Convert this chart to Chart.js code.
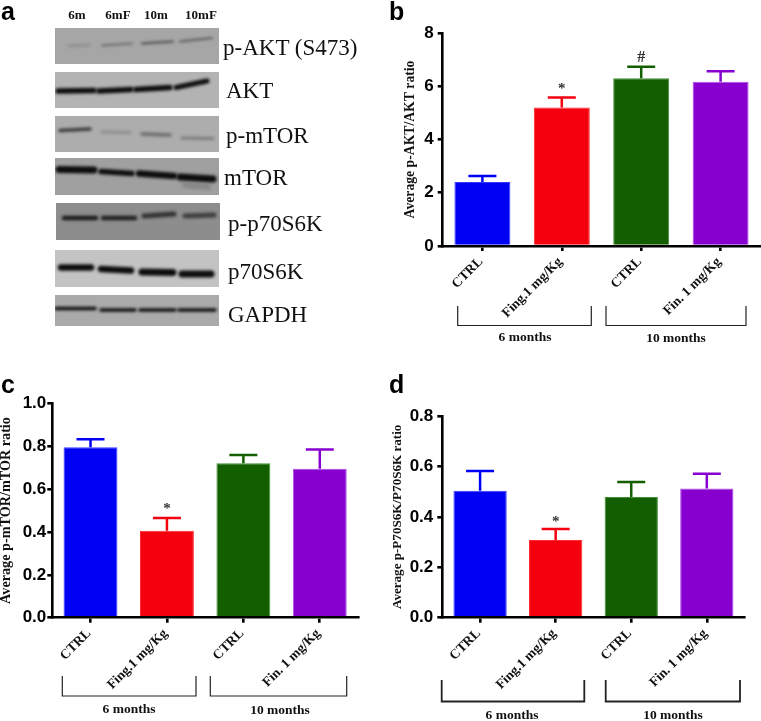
<!DOCTYPE html>
<html>
<head>
<meta charset="utf-8">
<title>Western blot and ratios</title>
<script src="https://cdn.jsdelivr.net/npm/chart.js@4"></script>
<style>
  html, body { margin: 0; padding: 0; background: #fff; }
  #page { position: relative; width: 761px; height: 721px; overflow: hidden; }
  canvas { position: absolute; }
  .letter { position: absolute; font: bold 25px "Liberation Sans", sans-serif; color: #000; line-height: 25px; }
  .lane { position: absolute; font: bold 13px "Liberation Serif", serif; color: #111; transform: translate(-50%, -50%); white-space: nowrap; }
  .protein { position: absolute; font: 23px "Liberation Serif", serif; color: #111; transform: translateY(-50%); white-space: nowrap; }
</style>
</head>
<body>
<div id="page">
  <canvas id="blot" width="230" height="340" style="left:0;top:0"></canvas>
  <canvas id="chartB" width="366" height="350" style="left:395px;top:15px"></canvas>
  <canvas id="chartC" width="361" height="345" style="left:0;top:376px"></canvas>
  <canvas id="chartD" width="366" height="335" style="left:390px;top:386px"></canvas>
</div>
<script>
var categories = ['CTRL', 'Fing.1 mg/Kg', 'CTRL', 'Fin. 1 mg/Kg'];
var barColors = ['#0000f5', '#f5000f', '#135f00', '#8700d0'];
var edgeColors = ['#3a3aff', '#ff2a2a', '#3f8f30', '#b04be8'];

var aktValues = [2.4, 5.2, 6.3, 6.17];
var aktErrorTops = [2.63, 5.58, 6.73, 6.56];
var aktMarks = ['', '*', '#', ''];
var aktTicks = [0, 2, 4, 6, 8];

var mtorValues = [0.795, 0.405, 0.72, 0.695];
var mtorErrorTops = [0.832, 0.465, 0.759, 0.785];
var mtorMarks = ['', '*', '', ''];
var mtorTicks = [0, 0.2, 0.4, 0.6, 0.8, 1.0];

var p70Values = [0.504, 0.308, 0.479, 0.512];
var p70ErrorTops = [0.582, 0.352, 0.538, 0.571];
var p70Marks = ['', '*', '', ''];
var p70Ticks = [0, 0.2, 0.4, 0.6, 0.8];

var groupLabels = ['6 months', '10 months'];
var laneLabels = ['6m', '6mF', '10m', '10mF'];
var proteinLabels = ['p-AKT (S473)', 'AKT', 'p-mTOR', 'mTOR', 'p-p70S6K', 'p70S6K', 'GAPDH'];

var serifBold = '"Liberation Serif", serif';
var sansBold = '"Liberation Sans", sans-serif';

// error bars, significance marks and the month brackets under the axis
var extrasPlugin = {
  id: 'extras',
  afterDatasetsDraw: function(chart, args, opts) {
    var ctx = chart.ctx;
    var meta = chart.getDatasetMeta(0);
    var y = chart.scales.y;
    ctx.save();
    for (var i = 0; i < opts.tops.length; i++) {
      var bar = meta.data[i];
      var top = y.getPixelForValue(opts.tops[i]);
      ctx.strokeStyle = barColors[i];
      ctx.lineWidth = 2.5;
      ctx.beginPath();
      ctx.moveTo(bar.x, bar.y);
      ctx.lineTo(bar.x, top);
      ctx.moveTo(bar.x - opts.capHalf, top);
      ctx.lineTo(bar.x + opts.capHalf, top);
      ctx.stroke();
      if (opts.marks[i]) {
        ctx.fillStyle = '#333';
        ctx.font = (opts.marks[i] == '#' ? 'bold 16px ' : 'bold 15px ') + serifBold;
        ctx.textAlign = 'center';
        ctx.textBaseline = 'middle';
        ctx.fillText(opts.marks[i], bar.x, top - opts.markGap);
      }
    }
    ctx.strokeStyle = '#222';
    ctx.lineWidth = opts.bracketWidth;
    ctx.fillStyle = '#111';
    ctx.font = 'bold 13.5px ' + serifBold;
    ctx.textAlign = 'center';
    ctx.textBaseline = 'middle';
    opts.brackets.forEach(function(b, k) {
      ctx.beginPath();
      ctx.moveTo(b.x1, b.top);
      ctx.lineTo(b.x1, b.bottom);
      ctx.lineTo(b.x2, b.bottom);
      ctx.lineTo(b.x2, b.top);
      ctx.stroke();
      ctx.fillText(groupLabels[k], b.textX, b.textY);
    });
    ctx.restore();
  }
};

function makeChart(id, values, tops, marks, ticks, yTitle, cfg) {
  var canvas = document.getElementById(id);
  return new Chart(canvas, {
    type: 'bar',
    data: {
      labels: categories,
      datasets: [{
        data: values,
        backgroundColor: barColors,
        borderColor: edgeColors,
        borderWidth: 1,
        barPercentage: 0.705,
        categoryPercentage: 1
      }]
    },
    plugins: [extrasPlugin],
    options: {
      responsive: false,
      animation: false,
      layout: {
        autoPadding: false,
        padding: { left: 0, top: cfg.top, right: canvas.width - cfg.right, bottom: 0 }
      },
      plugins: {
        legend: { display: false },
        tooltip: { enabled: false },
        extras: {
          tops: tops,
          marks: marks,
          capHalf: cfg.capHalf,
          markGap: cfg.markGap,
          brackets: cfg.brackets,
          bracketWidth: cfg.bracketWidth
        }
      },
      scales: {
        x: {
          afterFit: function(s) { s.height = canvas.height - cfg.bottom; },
          border: { color: '#000', width: 2.6, z: 1 },
          grid: { offset: false, drawOnChartArea: false, color: '#000', lineWidth: 2.6, tickLength: 5, z: 1 },
          ticks: {
            color: '#111',
            font: { family: serifBold, size: 13.5, weight: 'bold' },
            minRotation: 45,
            maxRotation: 45,
            padding: 3,
            labelOffset: -1.5
          }
        },
        y: {
          min: 0,
          max: ticks[ticks.length - 1],
          afterFit: function(s) { s.width = cfg.left; },
          afterBuildTicks: function(s) {
            s.ticks = ticks.map(function(t) { return { value: t }; });
          },
          border: { color: '#000', width: 2.6 },
          grid: { drawOnChartArea: false, color: '#000', lineWidth: 2.6, tickLength: 5 },
          ticks: {
            color: '#000',
            font: { family: sansBold, size: 17, weight: 'bold' },
            padding: cfg.tickPad,
            callback: function(v) { return cfg.decimals ? Number(v).toFixed(cfg.decimals) : String(v); }
          },
          title: {
            display: true,
            text: yTitle,
            color: '#111',
            font: { family: serifBold, size: cfg.titleSize, weight: 'bold' },
            padding: { top: cfg.titlePad, bottom: 0 }
          }
        }
      }
    }
  });
}

makeChart('chartB', aktValues, aktErrorTops, aktMarks, aktTicks, 'Average p-AKT/AKT ratio', {
  left: 47.7, right: 365.3, top: 18, bottom: 231,
  decimals: 0, capHalf: 14, markGap: 8.5, tickPad: 4, bracketWidth: 1.2, titleSize: 13.7, titlePad: 6.8,
  brackets: [
    { x1: 62.7, x2: 196.3, top: 291, bottom: 310.5, textX: 130, textY: 323 },
    { x1: 211, x2: 351, top: 291, bottom: 310.5, textX: 281, textY: 324 }
  ]
});

makeChart('chartC', mtorValues, mtorErrorTops, mtorMarks, mtorTicks, 'Average p-mTOR/mTOR ratio', {
  left: 52.3, right: 358, top: 27.3, bottom: 241.7,
  decimals: 1, capHalf: 14, markGap: 8.5, tickPad: 1, bracketWidth: 1.2, titleSize: 14.2, titlePad: -1.8,
  brackets: [
    { x1: 62.3, x2: 196, top: 300, bottom: 320, textX: 129, textY: 334 },
    { x1: 210.3, x2: 346.7, top: 300, bottom: 320, textX: 280, textY: 335 }
  ]
});

makeChart('chartD', p70Values, p70ErrorTops, p70Marks, p70Ticks, 'Average p-P70S6K/P70S6K ratio', {
  left: 52.3, right: 354.6, top: 30, bottom: 231.7,
  decimals: 1, capHalf: 14, markGap: 7, tickPad: 4, bracketWidth: 1.8, titleSize: 13.1, titlePad: 0,
  brackets: [
    { x1: 51.7, x2: 194.3, top: 294, bottom: 315.5, textX: 122, textY: 329.5 },
    { x1: 215.7, x2: 350, top: 294, bottom: 315.5, textX: 283, textY: 329.5 }
  ]
});

// panel a: the gel strips, coordinates in pixels of the page, bands are soft strokes
var strips = [
  { x: 55, y: 28, w: 164, h: 36, bg: '#a6a6a6', bands: [
    [68, 46, 90, 45, 1.4, 0.25], [102, 45.5, 132, 43.5, 1.6, 0.5], [142, 43.5, 173, 41.5, 1.8, 0.6], [180, 41.5, 212, 38, 1.8, 0.5] ] },
  { x: 55, y: 72, w: 164, h: 36, bg: '#b3b3b3', bands: [
    [58, 91, 94, 90.5, 5.5, 1], [99, 91, 131, 89.5, 5.5, 1], [136, 89.5, 170, 87.5, 5.5, 1], [176, 87.5, 207, 81, 5, 1] ] },
  { x: 55, y: 116, w: 164, h: 36, bg: '#adadad', bands: [
    [60, 130.5, 90, 129, 3.5, 0.7], [102, 132, 130, 132.5, 3, 0.2], [142, 134, 170, 135, 3.5, 0.4], [182, 138, 213, 138.5, 3, 0.3] ] },
  { x: 55, y: 158, w: 164, h: 37, bg: '#a0a0a0', bands: [
    [59, 169.5, 94, 170, 7, 1], [101, 171.5, 132, 173.5, 5.5, 1], [139, 173.5, 174, 176, 6.5, 1], [180, 177, 213, 179, 7, 1], [182, 184, 210, 186, 1, 0.5], [184, 187, 210, 189, 1, 0.4] ] },
  { x: 56, y: 203, w: 164, h: 37, bg: '#8d8d8d', bands: [
    [64, 218, 96, 218, 4.5, 0.9], [103, 218, 135, 218, 4.5, 0.85], [144, 216, 174, 214, 5, 0.7], [185, 216, 214, 215, 5, 0.6] ] },
  { x: 55, y: 250, w: 164, h: 37, bg: '#c3c3c3', bands: [
    [61, 267.5, 91, 267.5, 6.5, 1], [101, 269, 131, 270.5, 6.5, 1], [142, 272, 173, 272.5, 7, 1], [182, 274, 211, 274, 7, 1] ] },
  { x: 55, y: 295, w: 164, h: 31, bg: '#aaaaaa', bands: [
    [56, 308.5, 95, 308.5, 3.5, 1], [101, 310, 135, 310, 3.5, 1], [140, 310, 175, 310, 3.5, 1], [179, 310, 215, 310, 3.5, 1] ] }
];

function drawBlot() {
  var ctx = document.getElementById('blot').getContext('2d');
  strips.forEach(function(s) {
    ctx.save();
    ctx.beginPath();
    ctx.rect(s.x, s.y, s.w, s.h);
    ctx.clip();
    ctx.fillStyle = s.bg;
    ctx.fillRect(s.x, s.y, s.w, s.h);
    ctx.filter = 'blur(1.5px)';
    ctx.lineCap = 'round';
    s.bands.forEach(function(b) {
      ctx.strokeStyle = 'rgba(12,12,12,' + b[5] + ')';
      ctx.lineWidth = b[4];
      ctx.beginPath();
      ctx.moveTo(b[0], b[1]);
      ctx.lineTo(b[2], b[3]);
      ctx.stroke();
    });
    ctx.restore();
  });
}
drawBlot();

function addText(cls, text, x, y) {
  var el = document.createElement('div');
  el.className = cls;
  el.textContent = text;
  el.style.left = x + 'px';
  el.style.top = y + 'px';
  document.getElementById('page').appendChild(el);
}

var laneX = [77, 118, 156, 201];
laneLabels.forEach(function(t, i) { addText('lane', t, laneX[i], 15); });

var proteinX = [223, 226, 226, 224, 228, 228, 228];
var proteinY = [48, 91, 136, 178, 224, 272, 315];
proteinLabels.forEach(function(t, i) { addText('protein', t, proteinX[i], proteinY[i]); });

addText('letter', 'a', 1, -1);
addText('letter', 'b', 389, -1);
addText('letter', 'c', 1, 372);
addText('letter', 'd', 389, 372);
</script>
</body>
</html>
